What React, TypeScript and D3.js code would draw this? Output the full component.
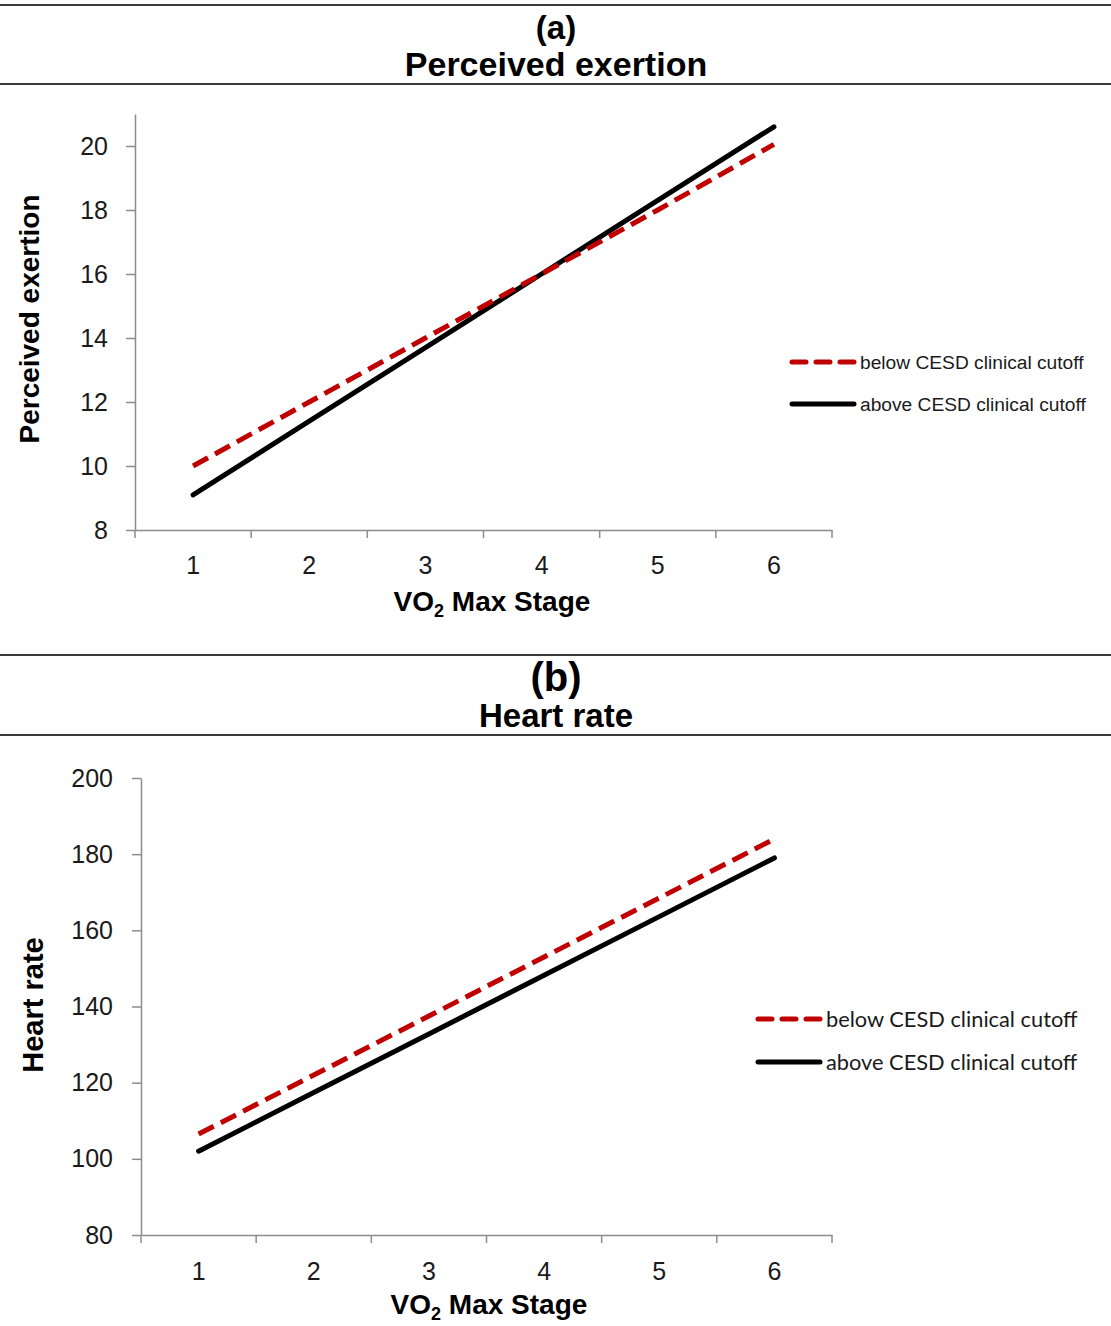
import React, { useEffect, useRef } from 'react';
import * as d3 from 'd3';

// VO2 max stages on the x axis
const stages = [1, 2, 3, 4, 5, 6];

// panel (a) perceived exertion
const exertionBelow = [10.0, 12.0, 14.0, 16.0, 18.0, 20.05];
const exertionAbove = [9.1, 11.4, 13.7, 16.0, 18.3, 20.6];
const exertionTicks = [8, 10, 12, 14, 16, 18, 20];

// panel (b) heart rate
const heartBelow = [106.5, 122, 137.5, 153, 168.5, 184];
const heartAbove = [102, 117.4, 132.8, 148.2, 163.6, 179];
const heartTicks = [80, 100, 120, 140, 160, 180, 200];

const legendLabels = ['below CESD clinical cutoff', 'above CESD clinical cutoff'];

const RED = '#c00000';
const AXIS = '#8c8c8c';
const HEAD_FONT = '"Liberation Sans Narrow", "Liberation Sans", Arial, sans-serif';
const FONT = '"Liberation Sans", Arial, sans-serif';

const App = () => {
    const svgRef = useRef(null);

    useEffect(() => {
        const svg = d3.select(svgRef.current);
        svg.selectAll('*').remove();

        const drawHeader = (top, bottom, tag, title, tagSize, tagY, titleSize, titleY) => {
            [top, bottom].forEach(y => {
                svg.append('line')
                    .attr('x1', 0).attr('x2', 1111)
                    .attr('y1', y).attr('y2', y)
                    .attr('stroke', '#3a3a3a').attr('stroke-width', 2);
            });
            svg.append('text')
                .attr('x', 556).attr('y', tagY)
                .attr('text-anchor', 'middle')
                .style('font-family', HEAD_FONT).style('font-weight', 'bold')
                .style('font-size', tagSize + 'px')
                .text(tag);
            svg.append('text')
                .attr('x', 556).attr('y', titleY)
                .attr('text-anchor', 'middle')
                .style('font-family', HEAD_FONT).style('font-weight', 'bold')
                .style('font-size', titleSize + 'px')
                .text(title);
        };

        const drawPanel = (p) => {
            const g = svg.append('g');

            const x = d3.scaleBand()
                .domain(stages)
                .range([p.left, p.right])
                .padding(0);

            const y = d3.scaleLinear()
                .domain(p.domain)
                .range([p.bottom, p.top]);

            // y axis
            const yAxis = g.append('g')
                .attr('transform', `translate(${p.left},0)`)
                .call(d3.axisLeft(y).tickValues(p.ticks).tickSize(9).tickSizeOuter(0).tickPadding(p.yPad));
            yAxis.select('.domain').attr('stroke', AXIS).attr('stroke-width', 1.5);
            yAxis.selectAll('.tick line').attr('stroke', AXIS).attr('stroke-width', 1.5);
            yAxis.selectAll('text')
                .style('font-family', FONT).style('font-size', '25px').attr('fill', '#1a1a1a');

            // x axis, labels centred in bands, ticks on band edges
            const xAxis = g.append('g')
                .attr('transform', `translate(0,${p.bottom})`)
                .call(d3.axisBottom(x).tickSize(0).tickSizeOuter(0).tickPadding(p.xPad));
            xAxis.select('.domain').attr('stroke', AXIS).attr('stroke-width', 1.5);
            xAxis.selectAll('text')
                .style('font-family', FONT).style('font-size', '25px').attr('fill', '#1a1a1a');

            const edges = stages.map(s => x(s)).concat([x(stages[stages.length - 1]) + x.bandwidth()]);
            g.selectAll('.edge')
                .data(edges)
                .enter()
                .append('line')
                .attr('x1', d => d).attr('x2', d => d)
                .attr('y1', p.bottom).attr('y2', p.bottom + 8)
                .attr('stroke', AXIS).attr('stroke-width', 1.5);

            // axis titles
            g.append('text')
                .attr('transform', `translate(${p.yTitleX},${p.yTitleY}) rotate(-90)`)
                .attr('text-anchor', 'middle')
                .attr('dy', '0.35em')
                .style('font-family', FONT).style('font-weight', 'bold').style('font-size', p.yTitleSize + 'px')
                .text(p.yTitle);

            const xt = g.append('text')
                .attr('x', p.xTitleX).attr('y', p.xTitleY)
                .attr('text-anchor', 'middle')
                .style('font-family', FONT).style('font-weight', 'bold').style('font-size', '28px');
            xt.append('tspan').text('VO');
            xt.append('tspan').attr('dy', 6).style('font-size', '18px').text('2');
            xt.append('tspan').attr('dy', -6).text(' Max Stage');

            // series
            const line = d3.line()
                .x((d, i) => x(stages[i]) + x.bandwidth() / 2)
                .y(d => y(d));

            g.append('path')
                .datum(p.above)
                .attr('d', line)
                .attr('fill', 'none')
                .attr('stroke', '#000')
                .attr('stroke-width', 5)
                .attr('stroke-linecap', 'round');

            g.append('path')
                .datum(p.below)
                .attr('d', line)
                .attr('fill', 'none')
                .attr('stroke', RED)
                .attr('stroke-width', 5)
                .attr('stroke-dasharray', '17,8');

            // legend
            legendLabels.forEach((label, i) => {
                const ly = p.legendY + i * p.legendGap;
                g.append('line')
                    .attr('x1', p.legendX).attr('x2', p.legendX + p.legendLen)
                    .attr('y1', ly).attr('y2', ly)
                    .attr('stroke', i === 0 ? RED : '#000')
                    .attr('stroke-width', 5)
                    .attr('stroke-linecap', 'round')
                    .attr('stroke-dasharray', i === 0 ? '14,10' : null);
                g.append('text')
                    .attr('x', p.legendX + p.legendLen + 6).attr('y', ly)
                    .attr('dy', '0.35em')
                    .style('font-family', p.legendFont).style('font-size', p.legendSize + 'px')
                    .attr('fill', '#1a1a1a')
                    .text(label);
            });
        };

        drawHeader(5, 84, '(a)', 'Perceived exertion', 33, 39, 34, 76);
        drawPanel({
            left: 135, right: 832, top: 114, bottom: 530,
            domain: [8, 21], ticks: exertionTicks,
            below: exertionBelow, above: exertionAbove,
            yPad: 18, xPad: 26,
            yTitle: 'Perceived exertion', yTitleX: 29, yTitleY: 319, yTitleSize: 28,
            xTitleX: 492, xTitleY: 611,
            legendX: 792, legendLen: 62, legendY: 362, legendGap: 42,
            legendFont: FONT, legendSize: 19.2
        });

        drawHeader(655, 735, '(b)', 'Heart rate', 40, 691, 33, 727);
        drawPanel({
            left: 141, right: 832, top: 778, bottom: 1235,
            domain: [80, 200], ticks: heartTicks,
            below: heartBelow, above: heartAbove,
            yPad: 19, xPad: 27,
            yTitle: 'Heart rate', yTitleX: 33, yTitleY: 1005, yTitleSize: 29,
            xTitleX: 489, xTitleY: 1314,
            legendX: 758, legendLen: 62, legendY: 1019, legendGap: 43,
            legendFont: 'Lato, "Open Sans", sans-serif', legendSize: 21.8
        });
    }, []);

    return (
        <svg ref={svgRef} width={1111} height={1326}
            style={{ position: 'absolute', left: 0, top: 0, background: '#fff' }}></svg>
    );
};

export default App;
